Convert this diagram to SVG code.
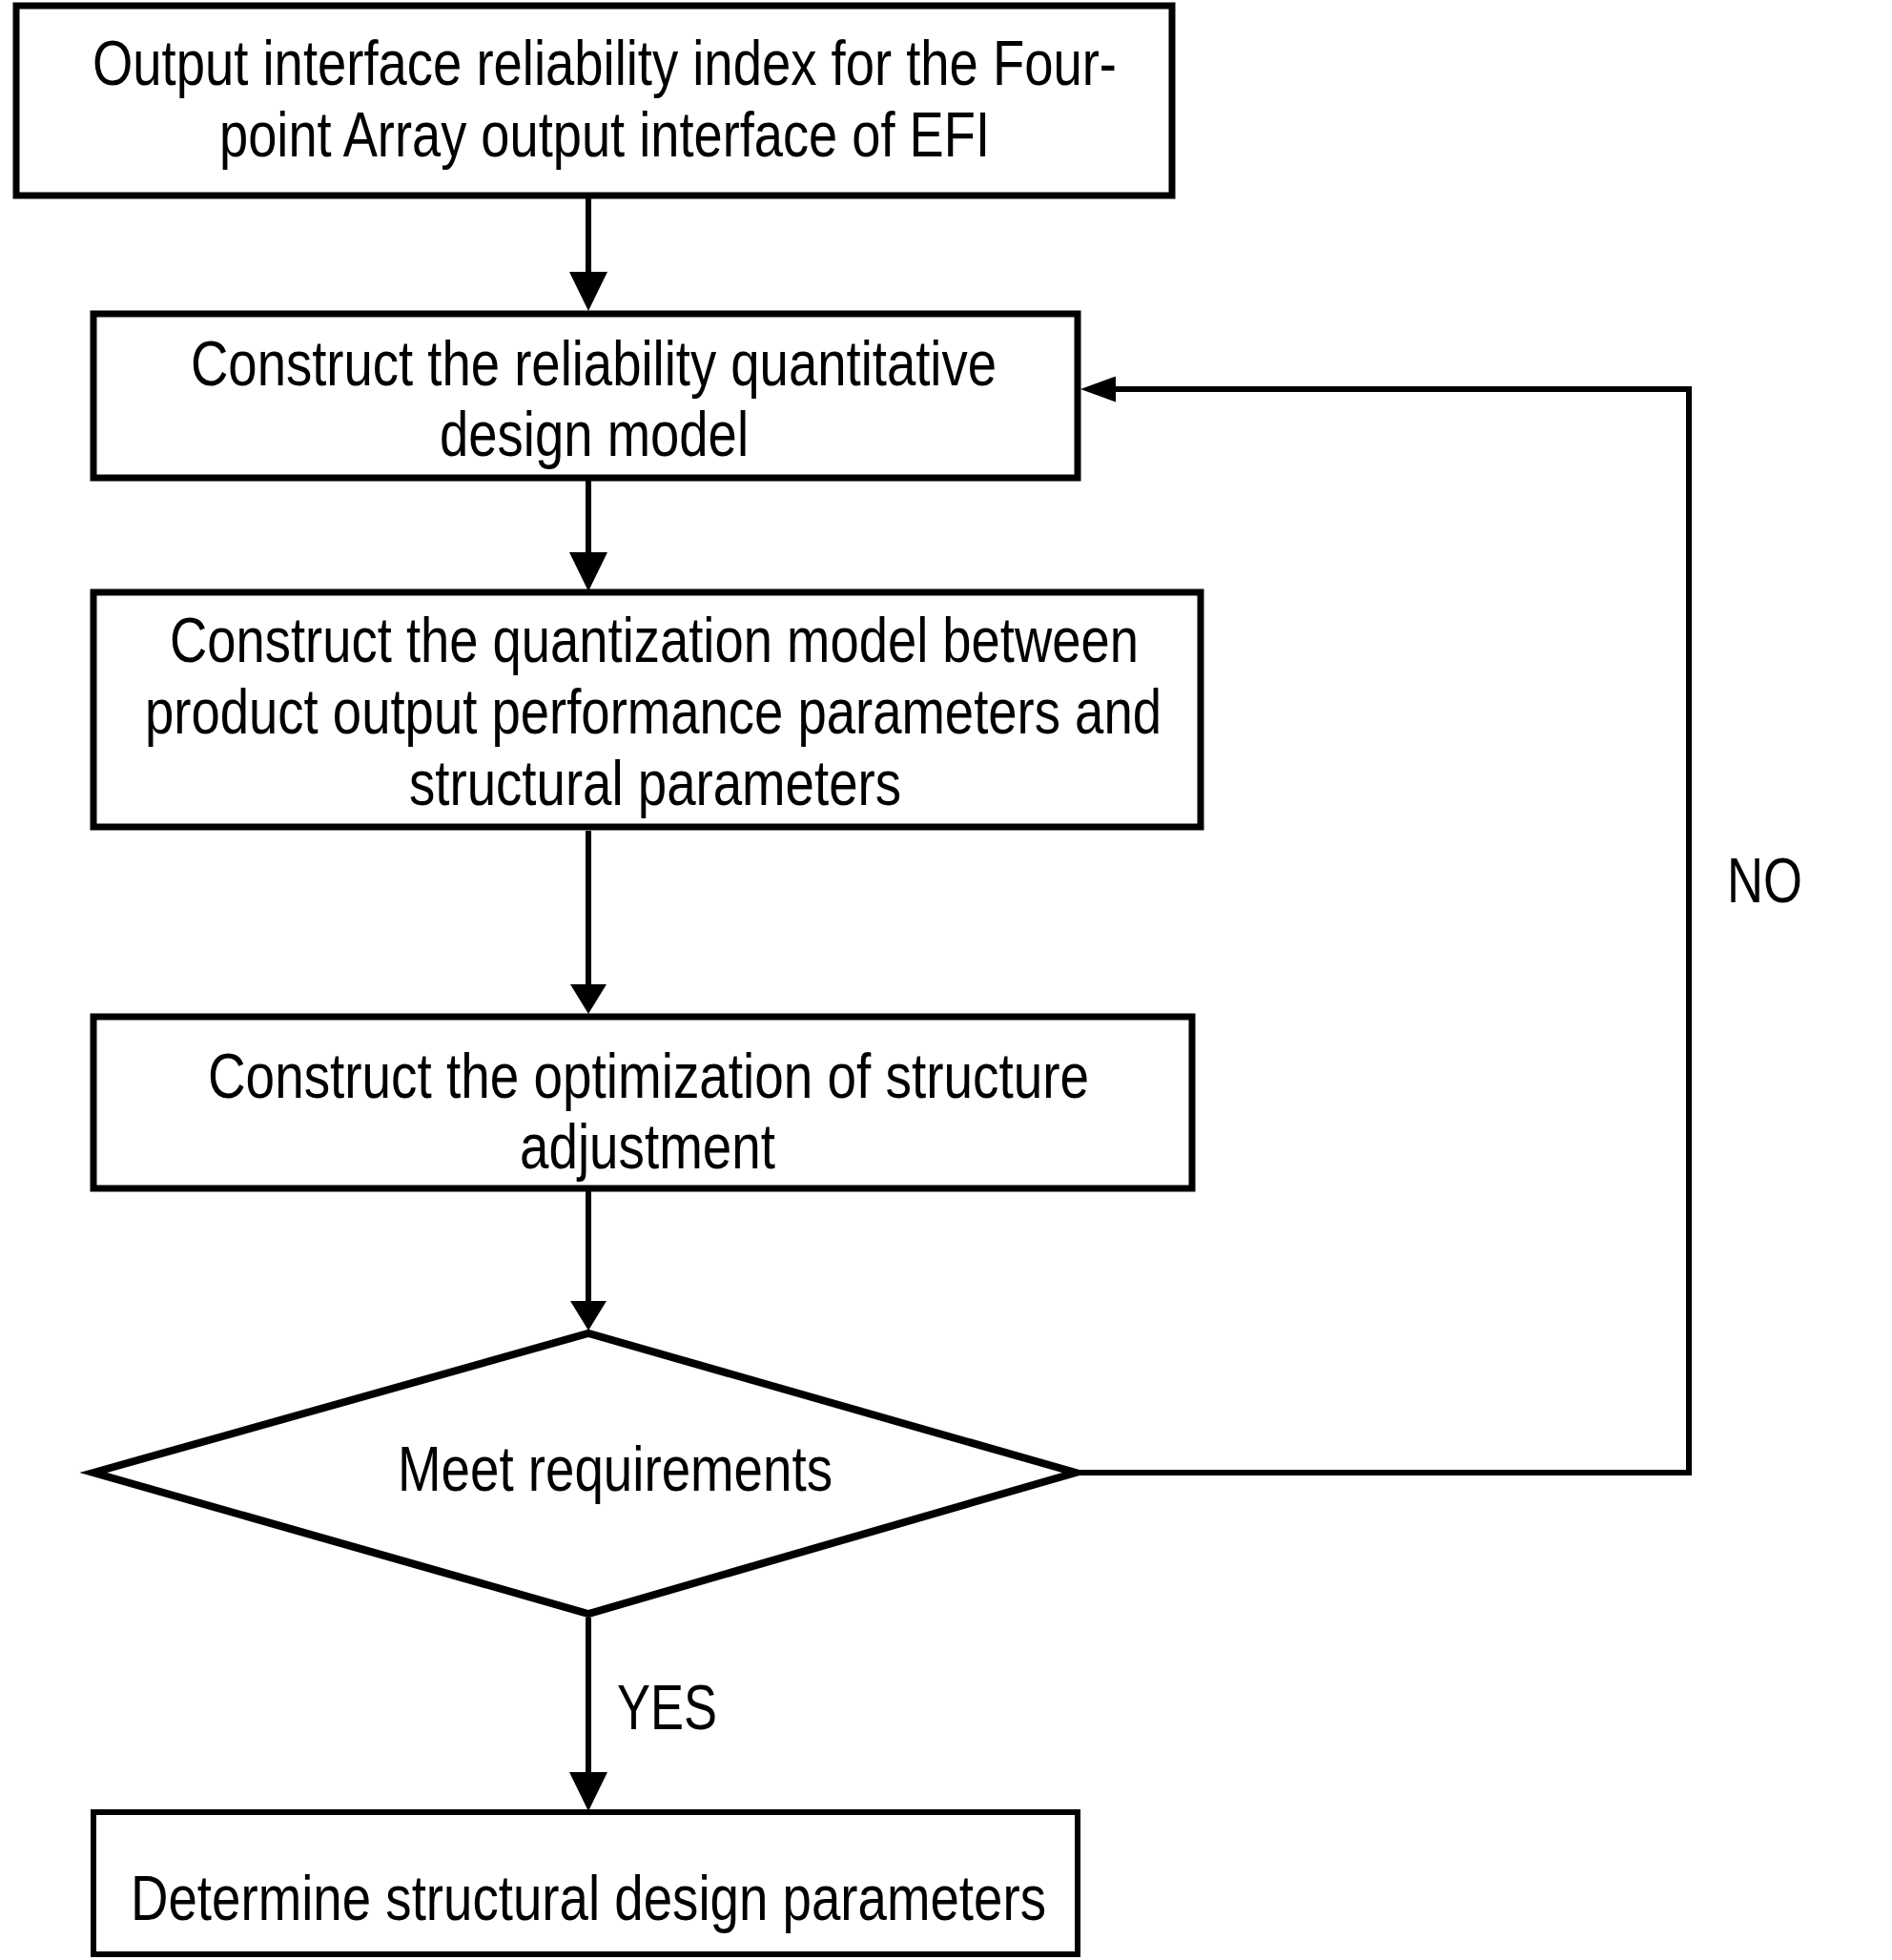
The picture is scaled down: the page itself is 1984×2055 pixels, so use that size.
<svg xmlns="http://www.w3.org/2000/svg" width="1984" height="2055" viewBox="0 0 1984 2055">
<style>
.box{fill:#fff;stroke:#000;stroke-width:7}
.dia{fill:#fff;stroke:#000;stroke-width:8;stroke-linejoin:miter}
.t{font-family:"Liberation Sans",Arial,sans-serif;font-size:67px;fill:#000}
.c{fill:none;stroke:#000;stroke-width:6}
</style>
<defs>
<marker id="aL" markerUnits="userSpaceOnUse" viewBox="0 0 41 40" markerWidth="41" markerHeight="40" refX="0" refY="20" orient="auto"><path d="M0,0 L41,20 L0,40 z" fill="#000"/></marker>
<marker id="aS" markerUnits="userSpaceOnUse" viewBox="0 0 31 38" markerWidth="31" markerHeight="38" refX="0" refY="19" orient="auto"><path d="M0,0 L31,19 L0,38 z" fill="#000"/></marker>
<marker id="aH" markerUnits="userSpaceOnUse" viewBox="0 0 37 27" markerWidth="37" markerHeight="27" refX="0" refY="13.5" orient="auto"><path d="M0,0 L37,13.5 L0,27 z" fill="#000"/></marker>
</defs>
<rect width="1984" height="2055" fill="#fff"/>
<g id="connectors">
<line class="c" x1="617" y1="207" x2="617" y2="285" marker-end="url(#aL)"/>
<line class="c" x1="617" y1="504" x2="617" y2="579" marker-end="url(#aL)"/>
<line class="c" x1="617" y1="871" x2="617" y2="1032" marker-end="url(#aS)"/>
<line class="c" x1="617" y1="1249" x2="617" y2="1364" marker-end="url(#aS)"/>
<line class="c" x1="617" y1="1696" x2="617" y2="1858" marker-end="url(#aL)"/>
<polyline class="c" points="1130,1544 1771,1544 1771,408 1170,408" marker-end="url(#aH)"/>
<text class="t" x="647" y="1813" textLength="105" lengthAdjust="spacingAndGlyphs">YES</text>
<text class="t" x="1811" y="946" textLength="79" lengthAdjust="spacingAndGlyphs">NO</text>
</g>
<g id="n1">
<rect class="box" x="17" y="6" width="1212" height="199"/>
<text class="t" x="97" y="89" textLength="1074" lengthAdjust="spacingAndGlyphs">Output interface reliability index for the Four-</text>
<text class="t" x="230" y="164" textLength="808" lengthAdjust="spacingAndGlyphs">point Array output interface of EFI</text>
</g>
<g id="n2">
<rect class="box" x="98" y="329" width="1032" height="172"/>
<text class="t" x="200" y="404" textLength="845" lengthAdjust="spacingAndGlyphs">Construct the reliability quantitative</text>
<text class="t" x="461" y="478" textLength="324" lengthAdjust="spacingAndGlyphs">design model</text>
</g>
<g id="n3">
<rect class="box" x="98" y="621" width="1161" height="246"/>
<text class="t" x="178" y="694" textLength="1016" lengthAdjust="spacingAndGlyphs">Construct the quantization model between</text>
<text class="t" x="152" y="769" textLength="1066" lengthAdjust="spacingAndGlyphs">product output performance parameters and</text>
<text class="t" x="429" y="844" textLength="516" lengthAdjust="spacingAndGlyphs">structural parameters</text>
</g>
<g id="n4">
<rect class="box" x="98" y="1066" width="1152" height="180"/>
<text class="t" x="218" y="1151" textLength="924" lengthAdjust="spacingAndGlyphs">Construct the optimization of structure</text>
<text class="t" x="545" y="1225" textLength="268" lengthAdjust="spacingAndGlyphs">adjustment</text>
</g>
<g id="n5">
<polygon class="dia" points="98,1544 617,1398 1128,1544 617,1692"/>
<text class="t" x="417" y="1563" textLength="456" lengthAdjust="spacingAndGlyphs">Meet requirements</text>
</g>
<g id="n6">
<rect class="box" x="98" y="1900" width="1032" height="149" style="stroke-width:6"/>
<text class="t" x="137" y="2013" textLength="960" lengthAdjust="spacingAndGlyphs">Determine structural design parameters</text>
</g>
</svg>
